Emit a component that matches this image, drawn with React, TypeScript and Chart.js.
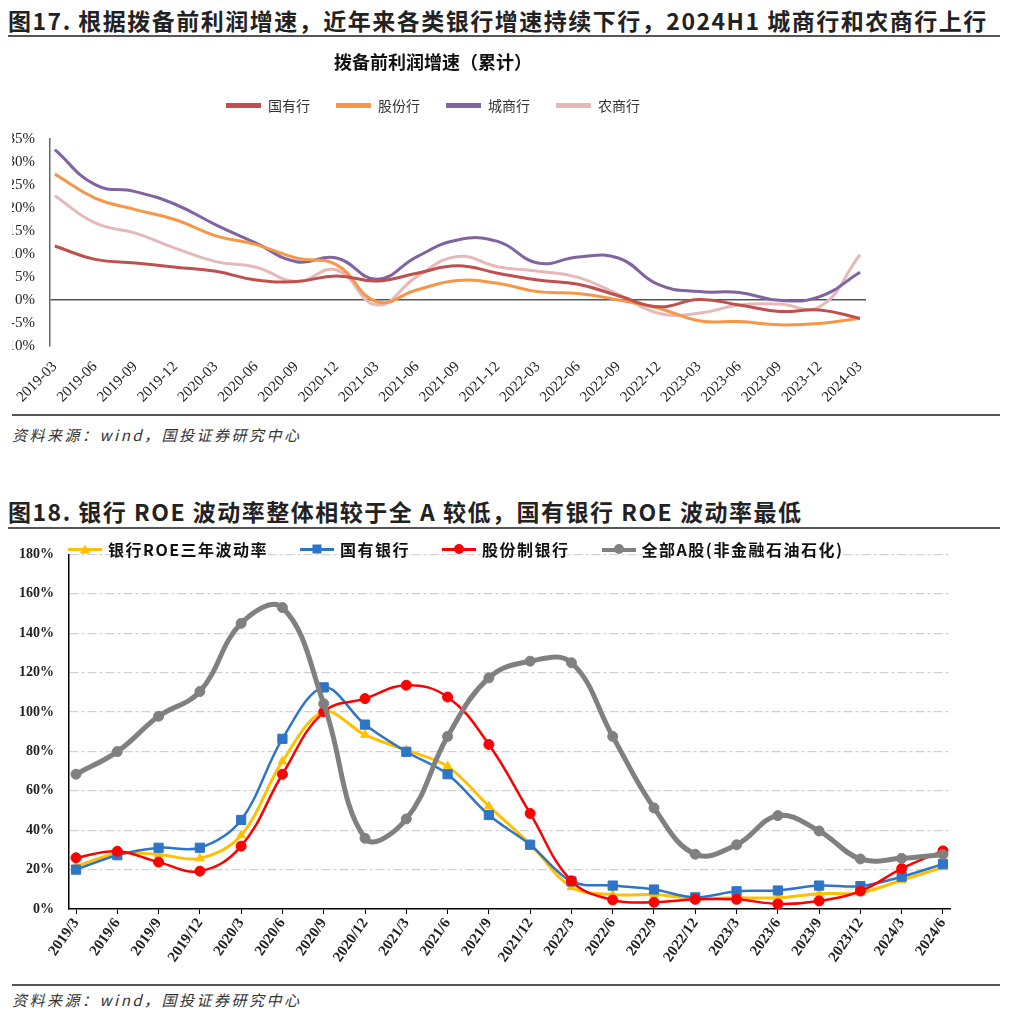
import React, { useEffect, useRef } from 'react';
import { Chart, registerables } from 'chart.js';

Chart.register(...registerables);

// ---------- Chart 1 data (拨备前利润增速，累计, %) ----------
const quarters1 = [
  '2019-03', '2019-06', '2019-09', '2019-12', '2020-03', '2020-06', '2020-09', '2020-12',
  '2021-03', '2021-06', '2021-09', '2021-12', '2022-03', '2022-06', '2022-09', '2022-12',
  '2023-03', '2023-06', '2023-09', '2023-12', '2024-03',
];
const stateOwned = [11.7, 8.8, 8.0, 7.1, 6.2, 4.3, 4.0, 5.2, 4.1, 5.8, 7.4, 5.8, 4.3, 3.4, 0.9, -1.5, 0.1, -1.1, -2.5, -2.2, -4.0];
const jointStock = [27.3, 22.1, 19.6, 17.4, 13.9, 12.0, 9.1, 7.6, -0.4, 2.2, 4.2, 3.6, 1.8, 1.4, 0.0, -1.8, -4.5, -4.7, -5.4, -5.1, -4.0];
const cityCommercial = [32.6, 25.0, 23.5, 20.7, 16.3, 12.3, 8.3, 9.1, 4.5, 9.4, 13.0, 12.7, 8.0, 9.3, 9.1, 3.3, 1.8, 1.6, -0.1, 0.7, 6.0];
const ruralCommercial = [22.6, 16.7, 14.5, 11.2, 8.3, 7.1, 4.0, 6.5, -1.1, 5.1, 9.4, 7.2, 6.2, 4.9, 1.2, -2.9, -2.9, -1.1, -0.9, -1.5, 9.8];
const series1Names = ['国有行', '股份行', '城商行', '农商行'];
const yTicks1 = { min: -10, max: 35, step: 5 };

// ---------- Chart 2 data (ROE 波动率, %) ----------
const quarters2 = [
  '2019/3', '2019/6', '2019/9', '2019/12', '2020/3', '2020/6', '2020/9', '2020/12',
  '2021/3', '2021/6', '2021/9', '2021/12', '2022/3', '2022/6', '2022/9', '2022/12',
  '2023/3', '2023/6', '2023/9', '2023/12', '2024/3', '2024/6',
];
const bankRoeVol = [21.6, 28.2, 27.7, 25.7, 37.4, 74.9, 100.1, 88.4, 80.6, 72.4, 52.2, 33.0, 11.1, 7.3, 7.3, 5.4, 5.7, 5.7, 7.8, 8.3, 14.6, 21.2];
const stateBanks = [20.0, 27.3, 31.1, 31.1, 45.2, 86.4, 112.5, 93.6, 79.8, 68.4, 47.7, 32.6, 14.0, 11.9, 9.9, 5.9, 9.0, 9.4, 11.9, 11.6, 16.4, 22.8];
const jointStockBanks = [26.0, 29.3, 23.8, 19.2, 31.9, 68.4, 100.1, 106.8, 113.6, 107.6, 83.5, 48.5, 14.3, 4.6, 3.4, 4.9, 4.9, 2.6, 4.1, 9.1, 20.5, 29.5];
const allAShares = [68.4, 79.9, 97.8, 110.4, 145.0, 153.0, 104.2, 35.9, 45.7, 87.6, 117.3, 125.8, 125.0, 87.6, 51.3, 27.8, 32.6, 47.4, 39.6, 25.4, 25.7, 27.7];
const series2Names = ['银行ROE三年波动率', '国有银行', '股份制银行', '全部A股(非金融石油石化)'];
const yTicks2 = { min: 0, max: 180, step: 20 };

const serif = "'Liberation Serif', 'Times New Roman', serif";
const cjk = "'Noto Sans CJK SC', 'Noto Sans', sans-serif";

const toXY = (arr: number[]) => arr.map((y, x) => ({ x, y }));

function TopChart() {
  const ref = useRef<HTMLCanvasElement>(null);
  useEffect(() => {
    const colors = ['#C0504D', '#F79646', '#8064A2', '#E6B9B8'];
    const values = [stateOwned, jointStock, cityCommercial, ruralCommercial];
    const chart = new Chart(ref.current as HTMLCanvasElement, {
      type: 'line',
      data: {
        datasets: values.map((v, i) => ({
          label: series1Names[i],
          data: toXY(v),
          borderColor: colors[i],
          backgroundColor: colors[i],
          borderWidth: 3,
          pointRadius: 0,
          tension: 0.45,
        })),
      },
      options: {
        animation: false,
        responsive: false,
        maintainAspectRatio: false,
        devicePixelRatio: 1,
        layout: { padding: { left: 0, right: 24, top: 0, bottom: 0 } },
        plugins: {
          tooltip: { enabled: false },
          title: {
            display: true,
            text: '拨备前利润增速（累计）',
            color: '#111',
            font: { family: cjk, size: 18, weight: 'bold', lineHeight: 1.2 },
            padding: { top: 11, bottom: 0 },
          },
          legend: {
            display: true,
            position: 'top',
            labels: {
              boxWidth: 35,
              boxHeight: 5,
              padding: 26,
              color: '#333',
              font: { family: cjk, size: 14 },
              generateLabels: (c: any) =>
                (Chart.defaults.plugins.legend.labels as any).generateLabels(c).map((l: any) => ({ ...l, lineWidth: 0 })),
            },
          },
          subtitle: {
            display: true,
            text: ' ',
            position: 'top',
            weight: 500,
            font: { size: 10 },
            padding: { top: 4, bottom: 0 },
          } as any,
        },
        scales: {
          x: {
            type: 'linear',
            min: -0.12,
            max: quarters1.length - 1 + 0.15,
            afterBuildTicks: (s: any) => {
              s.ticks = quarters1.map((_, i) => ({ value: i }));
            },
            afterFit: (s: any) => {
              s.height = 66;
            },
            grid: { display: false },
            border: { display: false },
            ticks: {
              autoSkip: false,
              maxRotation: 45,
              minRotation: 45,
              padding: 4,
              color: '#222',
              font: { family: serif, size: 15 },
              callback: (v: any) => quarters1[v as number] ?? '',
            },
          },
          y: {
            min: yTicks1.min,
            max: yTicks1.max,
            afterFit: (s: any) => {
              s.width = 50;
            },
            ticks: {
              stepSize: yTicks1.step,
              padding: 15,
              color: '#222',
              font: { family: serif, size: 15 },
              callback: (v: any) => v + '%',
            },
            grid: {
              drawTicks: false,
              lineWidth: 1.5,
              color: (ctx: any) => (ctx.tick && ctx.tick.value === 0 ? '#555' : 'rgba(0,0,0,0)'),
            },
            border: { display: true, color: '#666', width: 1.5 },
          },
        },
      } as any,
    });
    return () => chart.destroy();
  }, []);
  return (
    <div style={{ position: 'absolute', left: 12, top: 40, width: 878, height: 372, overflow: 'hidden' }}>
      <canvas ref={ref} width={890} height={372} style={{ position: 'absolute', left: -12, top: 0, width: 890, height: 372 }} />
    </div>
  );
}

function BottomChart() {
  const ref = useRef<HTMLCanvasElement>(null);
  useEffect(() => {
    const chart = new Chart(ref.current as HTMLCanvasElement, {
      type: 'line',
      data: {
        datasets: [
          {
            label: series2Names[0],
            data: toXY(bankRoeVol),
            borderColor: '#FFC000',
            backgroundColor: '#FFC000',
            borderWidth: 3,
            pointStyle: 'triangle',
            pointRadius: 5,
            pointBorderWidth: 1,
            tension: 0.35,
            order: 3,
          },
          {
            label: series2Names[1],
            data: toXY(stateBanks),
            borderColor: '#2E75C8',
            backgroundColor: '#2E75C8',
            borderWidth: 2.5,
            pointStyle: 'rect',
            pointRadius: 6.5,
            pointBorderWidth: 1,
            tension: 0.35,
            order: 2,
          },
          {
            label: series2Names[2],
            data: toXY(jointStockBanks),
            borderColor: '#FF0000',
            backgroundColor: '#FF0000',
            borderWidth: 2.5,
            pointStyle: 'circle',
            pointRadius: 5,
            pointBorderWidth: 1,
            tension: 0.4,
            order: 1,
          },
          {
            label: series2Names[3],
            data: toXY(allAShares),
            borderColor: '#808080',
            backgroundColor: '#808080',
            borderWidth: 5,
            pointStyle: 'circle',
            pointRadius: 5,
            pointBorderWidth: 1,
            tension: 0.4,
            order: 0,
          },
        ],
      },
      options: {
        animation: false,
        responsive: false,
        maintainAspectRatio: false,
        devicePixelRatio: 1,
        layout: { padding: { left: 0, right: 74, top: 10, bottom: 0 } },
        plugins: { legend: { display: false }, tooltip: { enabled: false } },
        scales: {
          x: {
            type: 'linear',
            min: -0.17,
            max: quarters2.length - 1 + 0.17,
            afterBuildTicks: (s: any) => {
              s.ticks = quarters2.map((_, i) => ({ value: i }));
            },
            afterFit: (s: any) => {
              s.height = 72;
            },
            grid: { drawOnChartArea: false, drawTicks: true, tickLength: 5, color: '#000', lineWidth: 1 },
            border: { display: true, color: '#000', width: 1.5 },
            ticks: {
              autoSkip: false,
              maxRotation: 55,
              minRotation: 55,
              padding: 1,
              color: '#222',
              font: { family: serif, size: 15, weight: 'bold' },
              callback: (v: any) => quarters2[v as number] ?? '',
            },
          },
          y: {
            min: yTicks2.min,
            max: yTicks2.max,
            afterFit: (s: any) => {
              s.width = 69;
            },
            ticks: {
              stepSize: yTicks2.step,
              padding: 15,
              color: '#222',
              font: { family: serif, size: 14, weight: 'bold' },
              callback: (v: any) => v + '%',
            },
            grid: {
              drawTicks: false,
              lineWidth: 1.2,
              color: (ctx: any) => (ctx.tick && ctx.tick.value === 0 ? 'rgba(0,0,0,0)' : '#d2d2d2'),
            },
            border: { display: true, color: '#000', width: 1.5, dash: [9, 3, 3, 3] },
          },
        },
      } as any,
    });
    return () => chart.destroy();
  }, []);

  const legendDefs = [
    { color: '#FFC000', marker: 'triangle' },
    { color: '#2E75C8', marker: 'rect' },
    { color: '#FF0000', marker: 'circle' },
    { color: '#808080', marker: 'circle' },
  ];
  const markerStyle = (m: string, color: string): React.CSSProperties => {
    if (m === 'triangle')
      return { width: 0, height: 0, borderLeft: '5px solid transparent', borderRight: '5px solid transparent', borderBottom: `9px solid ${color}` };
    if (m === 'rect') return { width: 9, height: 9, background: color };
    return { width: 10, height: 10, borderRadius: '50%', background: color };
  };

  return (
    <>
      <canvas ref={ref} width={1024} height={450} style={{ position: 'absolute', left: 0, top: 531, width: 1024, height: 450 }} />
      <div style={{ position: 'absolute', left: 68, top: 540, height: 18, display: 'flex', alignItems: 'center' }}>
        {series2Names.map((name, i) => (
          <div key={name} style={{ display: 'flex', alignItems: 'center', marginRight: 32 }}>
            <div style={{ position: 'relative', width: 34, height: 18 }}>
              <div style={{ position: 'absolute', left: 0, right: 0, top: 7.5, height: i === 3 ? 4 : 3, background: legendDefs[i].color }} />
              <div style={{ position: 'absolute', left: '50%', top: '50%', transform: 'translate(-50%, -50%)', ...markerStyle(legendDefs[i].marker, legendDefs[i].color) }} />
            </div>
            <span style={{ marginLeft: 6, fontFamily: cjk, fontWeight: 700, fontSize: 16, letterSpacing: 1.5, color: '#111', lineHeight: '18px', whiteSpace: 'nowrap' }}>{name}</span>
          </div>
        ))}
      </div>
    </>
  );
}

export default function App() {
  const titleStyle: React.CSSProperties = {
    position: 'absolute',
    left: 8,
    fontFamily: cjk,
    fontWeight: 700,
    fontSize: 23,
    letterSpacing: 1.5,
    color: '#222',
    whiteSpace: 'nowrap',
    lineHeight: '30px',
  };
  const ruleStyle = (top: number, left: number): React.CSSProperties => ({
    position: 'absolute',
    left,
    top,
    width: 1000 - left,
    height: 2,
    background: '#555',
  });
  const sourceStyle = (top: number): React.CSSProperties => ({
    position: 'absolute',
    left: 12,
    top,
    fontFamily: cjk,
    fontStyle: 'italic',
    fontSize: 15,
    letterSpacing: 2.5,
    color: '#333',
    whiteSpace: 'nowrap',
    lineHeight: '20px',
  });
  return (
    <div style={{ position: 'absolute', left: 0, top: 0, width: 1024, height: 1023, background: '#fff', overflow: 'hidden' }}>
      <div style={{ ...titleStyle, top: 5 }}>图17. 根据拨备前利润增速，近年来各类银行增速持续下行，2024H1 城商行和农商行上行</div>
      <div style={ruleStyle(35, 8)} />
      <TopChart />
      <div style={ruleStyle(414, 12)} />
      <div style={sourceStyle(425)}>资料来源：wind，国投证券研究中心</div>
      <div style={{ ...titleStyle, top: 496 }}>图18. 银行 ROE 波动率整体相较于全 A 较低，国有银行 ROE 波动率最低</div>
      <div style={ruleStyle(527, 8)} />
      <BottomChart />
      <div style={ruleStyle(984, 12)} />
      <div style={sourceStyle(990)}>资料来源：wind，国投证券研究中心</div>
    </div>
  );
}
